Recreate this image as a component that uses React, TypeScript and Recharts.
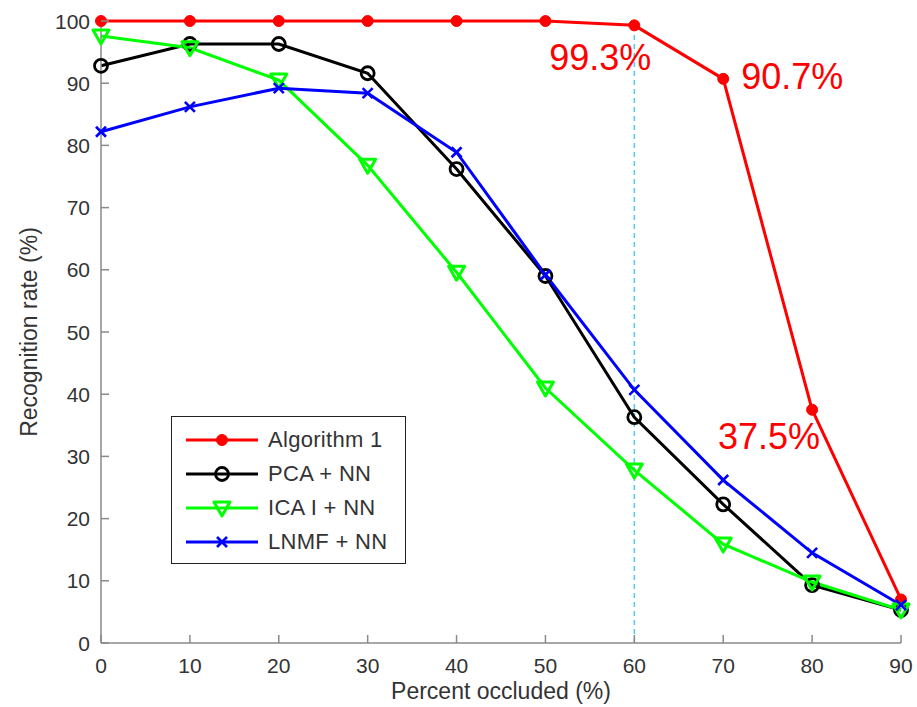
import React from "react";
import { LineChart, Line, XAxis, YAxis, ReferenceLine, LabelList } from "recharts";

const occluded = [0, 10, 20, 30, 40, 50, 60, 70, 80, 90];
const algorithm1 = [100, 100, 100, 100, 100, 100, 99.3, 90.7, 37.5, 7];
const pcaNN = [92.8, 96.3, 96.3, 91.6, 76.2, 59, 36.3, 22.3, 9.3, 5.3];
const icaNN = [97.6, 95.7, 90.5, 76.8, 59.6, 41, 27.8, 15.9, 9.8, 5.3];
const lnmfNN = [82.2, 86.2, 89.2, 88.4, 78.9, 59.2, 40.7, 26.2, 14.5, 6.1];
const xTicks = [0, 10, 20, 30, 40, 50, 60, 70, 80, 90];
const yTicks = [0, 10, 20, 30, 40, 50, 60, 70, 80, 90, 100];
const highlightX = 60;
const annotated = [6, 7, 8];

const seriesNames = ["Algorithm 1", "PCA + NN", "ICA I + NN", "LNMF + NN"];

const data = occluded.map((x, i) => ({
  x,
  alg: algorithm1[i],
  pca: pcaNN[i],
  ica: icaNN[i],
  lnmf: lnmfNN[i],
}));

const FONT = '"Liberation Sans", Arial, Helvetica, sans-serif';
const AXIS = "#8a8a8a";
const TEXT = "#333";

const RED = "#ff0000";
const BLACK = "#000000";
const GREEN = "#00ff00";
const BLUE = "#0000ff";

function Marker({ kind, cx, cy }: { kind: string; cx: number; cy: number }) {
  if (kind === "circleFilled") return <circle cx={cx} cy={cy} r={5.5} fill={RED} stroke={RED} />;
  if (kind === "circleOpen")
    return <circle cx={cx} cy={cy} r={6.5} fill="none" stroke={BLACK} strokeWidth={2.8} />;
  if (kind === "triangle")
    return (
      <polygon
        points={`${cx - 8},${cy - 6} ${cx + 8},${cy - 6} ${cx},${cy + 8}`}
        fill="none"
        stroke={GREEN}
        strokeWidth={3}
        strokeLinejoin="round"
      />
    );
  return (
    <g stroke={BLUE} strokeWidth={2.6}>
      <line x1={cx - 5} y1={cy - 5} x2={cx + 5} y2={cy + 5} />
      <line x1={cx - 5} y1={cy + 5} x2={cx + 5} y2={cy - 5} />
    </g>
  );
}

const makeDot = (kind: string) => (p: any) =>
  <Marker key={`${kind}-${p.index}`} kind={kind} cx={p.cx} cy={p.cy} />;

const YTick = (p: any) => (
  <g>
    <line x1={p.x} x2={p.x + 8} y1={p.y} y2={p.y} stroke={AXIS} strokeWidth={1.5} />
    <text x={p.x - 11} y={p.y + 7.5} textAnchor="end" fontSize={21} fill={TEXT} fontFamily={FONT}>
      {p.payload.value}
    </text>
  </g>
);

const XTick = (p: any) => (
  <g>
    <line x1={p.x} x2={p.x} y1={p.y} y2={p.y - 8} stroke={AXIS} strokeWidth={1.5} />
    <text x={p.x} y={p.y + 30} textAnchor="middle" fontSize={21} fill={TEXT} fontFamily={FONT}>
      {p.payload.value}
    </text>
  </g>
);

const annotPlacement: Record<number, { anchor: "start" | "middle" | "end"; dx: number; dy: number }> = {
  6: { anchor: "middle", dx: -34, dy: 45 },
  7: { anchor: "start", dx: 18, dy: 10 },
  8: { anchor: "end", dx: 8, dy: 39 },
};

const Annotation = (p: any) => {
  if (!annotated.includes(p.index)) return null;
  const pl = annotPlacement[p.index];
  return (
    <text
      x={p.x + pl.dx}
      y={p.y + pl.dy}
      textAnchor={pl.anchor}
      fontSize={36}
      fill={RED}
      fontFamily={FONT}
    >
      {`${Number(p.value).toFixed(1)}%`}
    </text>
  );
};

const legendItems = [
  { name: seriesNames[0], color: RED, kind: "circleFilled" },
  { name: seriesNames[1], color: BLACK, kind: "circleOpen" },
  { name: seriesNames[2], color: GREEN, kind: "triangle" },
  { name: seriesNames[3], color: BLUE, kind: "x" },
];

const LegendBox = () => (
  <div
    style={{
      position: "absolute",
      left: 171,
      top: 416,
      width: 235,
      height: 148,
      border: "1.5px solid #222",
      background: "#fff",
      padding: "6px 0 0 12px",
      fontFamily: FONT,
      fontSize: 22,
      color: TEXT,
      boxSizing: "border-box",
    }}
  >
    {legendItems.map((it) => (
      <div key={it.name} style={{ display: "flex", alignItems: "center", height: 34 }}>
        <svg width={76} height={24} style={{ marginRight: 8, flexShrink: 0 }}>
          <line x1={2} x2={74} y1={12} y2={12} stroke={it.color} strokeWidth={3} />
          <Marker kind={it.kind} cx={38} cy={12} />
        </svg>
        <span style={{ whiteSpace: "nowrap", letterSpacing: 0.3 }}>{it.name}</span>
      </div>
    ))}
  </div>
);

export default function App() {
  return (
    <div style={{ position: "absolute", left: 0, top: 0, width: 917, height: 707, background: "#fff", overflow: "hidden" }}>
      <LineChart width={917} height={707} data={data} margin={{ top: 21, right: 16, bottom: 8, left: 0 }}>
        <XAxis
          dataKey="x"
          type="number"
          domain={[0, 90]}
          ticks={xTicks}
          tick={<XTick />}
          tickSize={0}
          tickMargin={0}
          tickLine={false}
          height={56}
          stroke={AXIS}
          strokeWidth={1.5}
          label={{
            value: "Percent occluded (%)",
            position: "insideBottom",
            offset: 0,
            style: { fontSize: 23, fill: TEXT, fontFamily: FONT },
          }}
        />
        <YAxis
          type="number"
          domain={[0, 100]}
          ticks={yTicks}
          tick={<YTick />}
          tickSize={0}
          tickMargin={0}
          tickLine={false}
          width={101}
          stroke={AXIS}
          strokeWidth={1.5}
          label={{
            value: "Recognition rate (%)",
            angle: -90,
            position: "center",
            dx: -22,
            style: { fontSize: 23, fill: TEXT, fontFamily: FONT },
          }}
        />
        <ReferenceLine x={highlightX} stroke="#55c8f0" strokeWidth={1.5} strokeDasharray="5 4" />
        <Line
          dataKey="alg"
          name={seriesNames[0]}
          stroke={RED}
          strokeWidth={3}
          dot={makeDot("circleFilled")}
          isAnimationActive={false}
        >
          <LabelList dataKey="alg" content={<Annotation />} />
        </Line>
        <Line dataKey="pca" name={seriesNames[1]} stroke={BLACK} strokeWidth={3} dot={makeDot("circleOpen")} isAnimationActive={false} />
        <Line dataKey="ica" name={seriesNames[2]} stroke={GREEN} strokeWidth={3} dot={makeDot("triangle")} isAnimationActive={false} />
        <Line dataKey="lnmf" name={seriesNames[3]} stroke={BLUE} strokeWidth={3} dot={makeDot("x")} isAnimationActive={false} />
      </LineChart>
      <LegendBox />
    </div>
  );
}
